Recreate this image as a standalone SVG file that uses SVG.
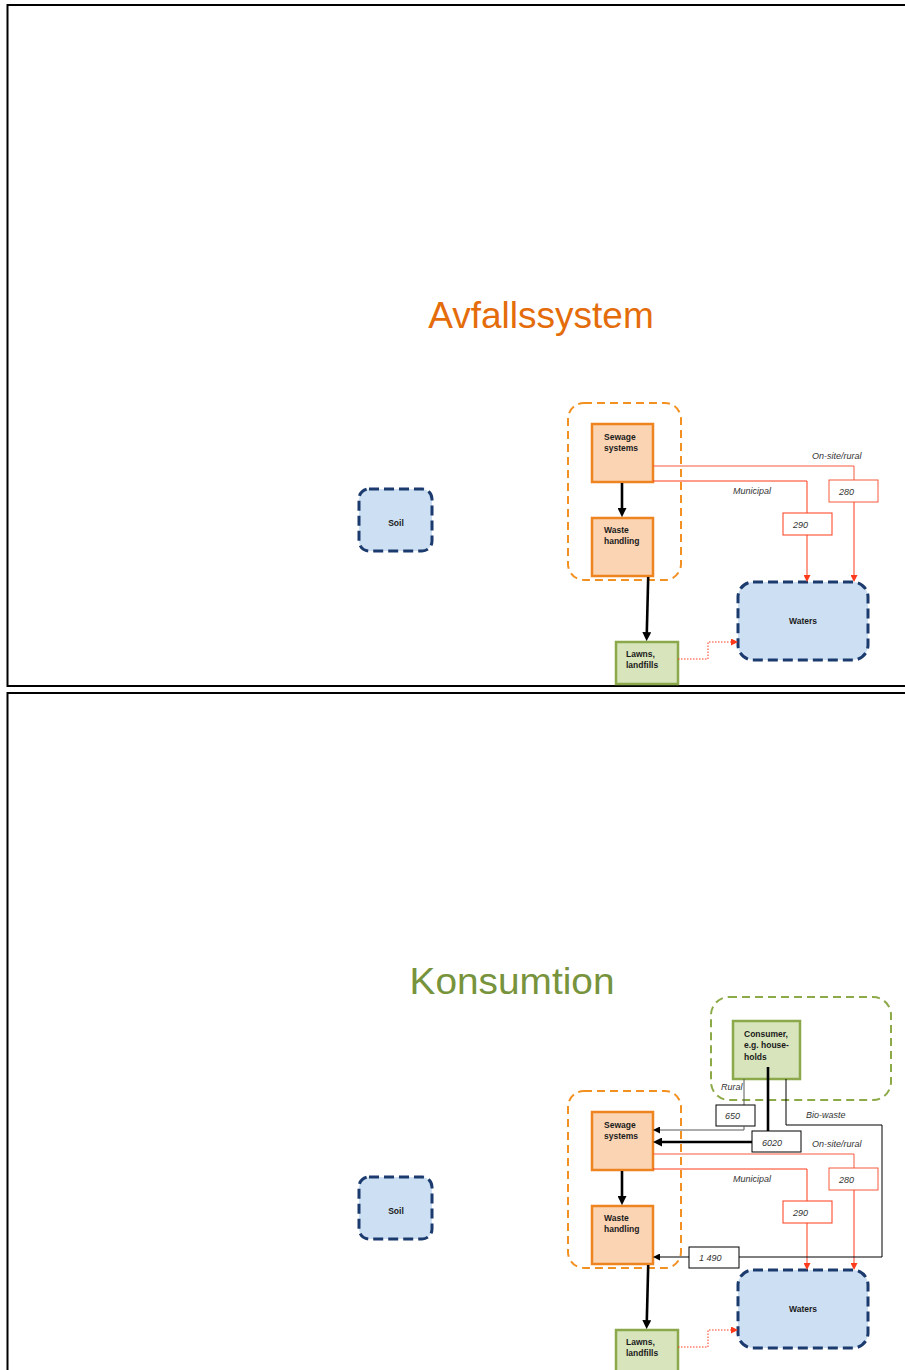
<svg xmlns="http://www.w3.org/2000/svg" width="905" height="1370" viewBox="0 0 905 1370">
<defs>
<style>
.frame{fill:#fff;stroke:#000;stroke-width:2}
.title{font-family:"Liberation Sans",Arial,sans-serif;font-size:37px}
.lbl{font-family:"Liberation Sans",Arial,sans-serif;font-size:8.5px;font-weight:bold;fill:#1a1a1a}
.it{font-family:"Liberation Sans",Arial,sans-serif;font-size:9px;font-style:italic;fill:#333}
.grpO{fill:none;stroke:#F39022;stroke-width:2;stroke-dasharray:8 5}
.grpG{fill:none;stroke:#8DAA48;stroke-width:2;stroke-dasharray:8 5}
.peach{fill:#FBD4B4;stroke:#EE8420;stroke-width:2.5}
.green{fill:#D8E4BC;stroke:#8BA84A;stroke-width:2.5}
.blue{fill:#CDDFF3;stroke:#1B3A6E;stroke-width:3;stroke-dasharray:10 5}
.thick{fill:none;stroke:#000;stroke-width:2.6}
.thin{fill:none;stroke:#000;stroke-width:1}
.gray{fill:none;stroke:#595959;stroke-width:1}
.red{fill:none;stroke:#FF3A1A;stroke-width:1}
.redl{fill:none;stroke:#F55A3C;stroke-width:1}
.dot{fill:none;stroke:#FF3A1A;stroke-width:1;stroke-dasharray:1.5 1.5}
.nbox{fill:#fff;stroke:#000;stroke-width:1}
.rbox{fill:#fff;stroke:#FF3A1A;stroke-width:1}
.rboxl{fill:#fff;stroke:#F55A3C;stroke-width:1}
</style>
<marker id="ah" viewBox="0 0 10 10" markerWidth="9" markerHeight="9" markerUnits="userSpaceOnUse" refX="1" refY="5" orient="auto"><path d="M0,0 L10,5 L0,10 z" fill="#000"/></marker>
<marker id="at" viewBox="0 0 10 10" markerWidth="7" markerHeight="7" markerUnits="userSpaceOnUse" refX="1" refY="5" orient="auto"><path d="M0,0 L10,5 L0,10 z" fill="#000"/></marker>
<marker id="ar" viewBox="0 0 10 10" markerWidth="7" markerHeight="7" markerUnits="userSpaceOnUse" refX="1" refY="5" orient="auto"><path d="M0,0 L10,5 L0,10 z" fill="#FF3A1A"/></marker>
</defs>

<rect width="905" height="1370" fill="#fff"/>
<rect class="frame" x="7.5" y="5" width="1000" height="681"/>
<rect class="frame" x="7.5" y="693" width="1000" height="1000"/>

<!-- Top panel -->
<text class="title" x="541" y="328" text-anchor="middle" fill="#E46C0A">Avfallssystem</text>

<g id="soil1"><rect class="blue" x="359" y="489" width="73" height="62" rx="10"/><text class="lbl" x="396" y="526" text-anchor="middle">Soil</text></g>
<g id="wastegroup1"><rect class="grpO" x="568" y="403" width="113" height="177" rx="16"/></g>
<g id="sewage1"><rect class="peach" x="592" y="424" width="61" height="58"/><text class="lbl" x="604" y="440">Sewage</text><text class="lbl" x="604" y="451">systems</text></g>
<g id="waste1"><rect class="peach" x="592" y="518" width="61" height="58"/><text class="lbl" x="604" y="533">Waste</text><text class="lbl" x="604" y="544">handling</text></g>
<g id="lawns1"><rect class="green" x="616" y="642" width="62" height="42"/><text class="lbl" x="626" y="657">Lawns,</text><text class="lbl" x="626" y="668">landfills</text></g>
<g id="waters1"><rect class="blue" x="738" y="582" width="130" height="78" rx="15"/><text class="lbl" x="803" y="624" text-anchor="middle">Waters</text></g>

<g id="connectors1">
<path class="thick" d="M622,483 V509" marker-end="url(#ah)"/>
<path class="thick" d="M648.2,577 L646.8,633" marker-end="url(#ah)"/>
<path class="redl" d="M653,466 H854 V480"/>
<rect class="rboxl" x="829" y="480" width="49" height="22"/>
<path class="red" d="M854,502 V575.7" marker-end="url(#ar)"/>
<path class="red" d="M653,481 H807 V513"/>
<rect class="rbox" x="783" y="513" width="49" height="22"/>
<path class="red" d="M807,535 V575.7" marker-end="url(#ar)"/>
<path class="dot" d="M678,659 H708 V642 H731.7" marker-end="url(#ar)"/>
<text class="it" x="812" y="459">On-site/rural</text>
<text class="it" x="733" y="494">Municipal</text>
<text class="it" x="839" y="495">280</text>
<text class="it" x="793" y="528">290</text>
</g>

<!-- Bottom panel -->
<text class="title" x="512" y="994" text-anchor="middle" fill="#77933C" font-size="38" textLength="205" lengthAdjust="spacingAndGlyphs">Konsumtion</text>

<g id="soil2"><rect class="blue" x="359" y="1177" width="73" height="62" rx="10"/><text class="lbl" x="396" y="1214" text-anchor="middle">Soil</text></g>
<g id="consumergroup"><rect class="grpG" x="711" y="997" width="180" height="103" rx="18"/></g>
<g id="consumer"><rect class="green" x="733" y="1021" width="67" height="58"/><text class="lbl" x="744" y="1037">Consumer,</text><text class="lbl" x="744" y="1048">e.g. house-</text><text class="lbl" x="744" y="1059.5">holds</text></g>
<g id="wastegroup2"><rect class="grpO" x="568" y="1091" width="113" height="177" rx="16"/></g>
<g id="sewage2"><rect class="peach" x="592" y="1112" width="61" height="58"/><text class="lbl" x="604" y="1128">Sewage</text><text class="lbl" x="604" y="1139">systems</text></g>
<g id="waste2"><rect class="peach" x="592" y="1206" width="61" height="58"/><text class="lbl" x="604" y="1221">Waste</text><text class="lbl" x="604" y="1232">handling</text></g>
<g id="lawns2"><rect class="green" x="616" y="1330" width="62" height="42"/><text class="lbl" x="626" y="1345">Lawns,</text><text class="lbl" x="626" y="1356">landfills</text></g>
<g id="waters2"><rect class="blue" x="738" y="1270" width="130" height="78" rx="15"/><text class="lbl" x="803" y="1312" text-anchor="middle">Waters</text></g>

<g id="connectors2">
<path class="thick" d="M622,1171 V1197" marker-end="url(#ah)"/>
<path class="thick" d="M648.2,1265 L646.8,1321" marker-end="url(#ah)"/>
<path class="redl" d="M653,1154 H854 V1168"/>
<rect class="rboxl" x="829" y="1168" width="49" height="22"/>
<path class="red" d="M854,1190 V1263.7" marker-end="url(#ar)"/>
<path class="red" d="M653,1169 H807 V1201"/>
<rect class="rbox" x="783" y="1201" width="49" height="22"/>
<path class="red" d="M807,1223 V1263.7" marker-end="url(#ar)"/>
<path class="dot" d="M678,1347 H708 V1330 H731.7" marker-end="url(#ar)"/>
<text class="it" x="812" y="1147">On-site/rural</text>
<text class="it" x="733" y="1182">Municipal</text>
<text class="it" x="839" y="1183">280</text>
<text class="it" x="793" y="1216">290</text>

<path class="gray" d="M744,1079 V1105"/>
<rect class="nbox" x="716" y="1105" width="39" height="21"/>
<path class="gray" d="M744,1126 V1130 H659.3" marker-end="url(#at)"/>
<text class="it" x="721" y="1090">Rural</text>
<text class="it" x="725" y="1119">650</text>

<path class="thick" d="M768,1067 V1131"/>
<rect class="nbox" x="752" y="1131" width="49" height="21"/>
<path class="thick" d="M752,1142 H661.1" marker-end="url(#ah)"/>
<text class="it" x="762" y="1146">6020</text>

<path class="thin" d="M786,1079 V1125 H882 V1257 H739"/>
<rect class="nbox" x="689" y="1247" width="50" height="21"/>
<path class="thin" d="M689,1257 H659.3" marker-end="url(#at)"/>
<text class="it" x="806" y="1118">Bio-waste</text>
<text class="it" x="699" y="1261">1 490</text>
</g>
</svg>
